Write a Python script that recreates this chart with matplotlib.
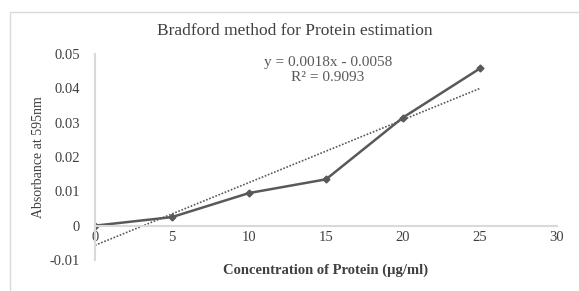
"""
plot.py - Bradford method standard curve.
"""

import numpy as np
import matplotlib.pyplot as plt
from matplotlib.patches import Rectangle

concentracao = [0, 5, 10, 15, 20, 25]
absorbancia = [0.0, 0.0025, 0.0095, 0.0135, 0.0315, 0.0458]
xticks = [0, 5, 10, 15, 20, 25, 30]
yticks = [-0.01, 0, 0.01, 0.02, 0.03, 0.04, 0.05]
equacao = "y = 0.0018x - 0.0058"
r2 = "R² = 0.9093"

plt.rcParams["font.family"] = ["Liberation Serif", "DejaVu Serif"]

cinza = "#595959"
claro = "#d9d9d9"

fig = plt.figure(figsize=(5.79, 2.91), dpi=100)
fig.patches.append(Rectangle((10 / 579, -0.01), 1.0, 0.97, transform=fig.transFigure,
                             fill=False, edgecolor=claro, linewidth=1))
ax = fig.add_axes([95 / 579, 1 - 260 / 291, (557 - 95) / 579, (260 - 54) / 291])

# linha de tendência (mínimos quadrados)
a, b = np.polyfit(concentracao, absorbancia, 1)
xs = np.array([concentracao[0], concentracao[-1]])
ax.plot(xs, a * xs + b, linestyle=(0, (1, 1)), color=cinza, linewidth=1.2)

ax.plot(concentracao, absorbancia, color=cinza, linewidth=1.8, marker="D",
        markersize=3.5, markerfacecolor=cinza, markeredgecolor=cinza)

ax.set_xlim(0, 30)
ax.set_ylim(-0.01, 0.05)
ax.set_xticks(xticks)
ax.set_yticks(yticks)
ax.set_yticklabels([f"{v:g}" for v in yticks])
ax.spines["top"].set_visible(False)
ax.spines["right"].set_visible(False)
ax.spines["bottom"].set_position(("data", 0))
ax.spines["bottom"].set_color(claro)
ax.spines["bottom"].set_linewidth(1.5)
ax.spines["left"].set_color(claro)
ax.spines["left"].set_linewidth(1.5)
ax.tick_params(axis="both", length=0, labelsize=10.5, colors="#404040")
ax.tick_params(axis="y", pad=11)
ax.tick_params(axis="x", pad=4)

fig.text(295 / 579, 1 - 31 / 291, "Bradford method for Protein estimation",
         ha="center", va="center", fontsize=12.5, color="#404040")
fig.text(39 / 579, 1 - 157 / 291, "Absorbance at 595nm", rotation=90,
         ha="center", va="center", fontsize=10, color="#404040")
fig.text(326 / 579, 1 - 270 / 291, "Concentration of Protein (µg/ml)",
         ha="center", va="center", fontsize=10.5, fontweight="bold", color="#404040")

fig.text(328 / 579, 1 - 70 / 291, equacao + "\n" + r2,
         ha="center", va="center", fontsize=11, color=cinza, linespacing=1.25)

plt.savefig("out.png", dpi=100)
plt.close()
